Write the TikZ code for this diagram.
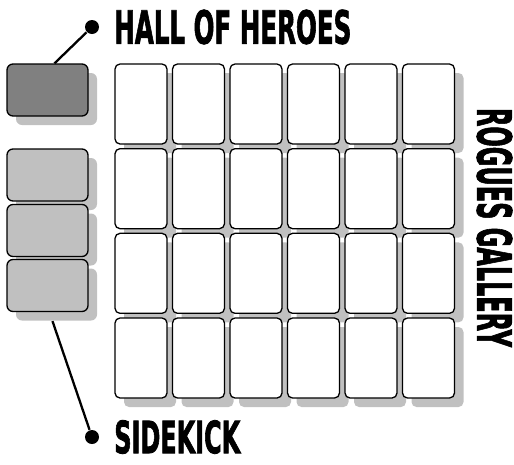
\documentclass[tikz,border=0pt]{standalone}
\usepackage{fontspec}
\newfontfamily\bannerfont{DejaVu Sans Condensed}[BoldFeatures={FakeBold=2}]
\usetikzlibrary{shadows, positioning}
\definecolor{cdark}{HTML}{808080}
\definecolor{clight}{HTML}{C0C0C0}
\definecolor{cshade}{HTML}{C0C0C0}
\tikzset{
  every picture/.style={line width=1.3pt},
  slot/.style={draw=black, fill=#1, rounded corners=5pt, inner sep=0pt, general shadow={fill=cshade, shadow xshift=9pt, shadow yshift=-9pt}},
  slot/.default=white,
  card/.style={slot, minimum width=52pt, minimum height=80pt},
  pile/.style={slot=#1, minimum width=81pt, minimum height=52pt, rounded corners=6pt},
  pile/.default=clight,
  pin/.style={circle, fill=black, inner sep=0pt, minimum size=14pt},
  leader/.style={draw=black, line width=2.3pt},
  banner/.style={inner sep=0pt, font=\bannerfont\bfseries},
}

\begin{document}
\begin{tikzpicture}[x=1pt, y=-1pt]
  \useasboundingbox (0,0) rectangle (514,464);
  % left piles
  \node[pile=cdark] (hero) at (47.5,90) {};
  \node[pile] (kick1) at (47.5,175) {};
  \node[pile] (kick2) at (47.5,230.5) {};
  \node[pile] (kick3) at (47.5,285.5) {};
  % the gallery
  \foreach \row in {1,...,4}
    \foreach \col in {1,...,6}
      \node[card] (c\row\col) at ({141+57.5*(\col-1)}, {104+84.67*(\row-1)}) {};
  % labels
  \node[pin] (herodot) at (92,27) {};
  \node[pin] (kickdot) at (92,437) {};
  \node[banner, right=14pt of herodot] (heroname) {\resizebox{237pt}{34pt}{HALL OF HEROES}};
  \node[banner, right=14pt of kickdot] (kickname) {\resizebox{126pt}{33pt}{SIDEKICK}};
  \node[banner, rotate=-90] (roguename) at (494.5,227.5) {\resizebox{239pt}{35pt}{ROGUES GALLERY}};
  \draw[leader] ([xshift=7pt]hero.north) -- (herodot);
  \draw[leader] ([xshift=5pt, yshift=-9pt]kick3.south) -- (kickdot);
\end{tikzpicture}
\end{document}
